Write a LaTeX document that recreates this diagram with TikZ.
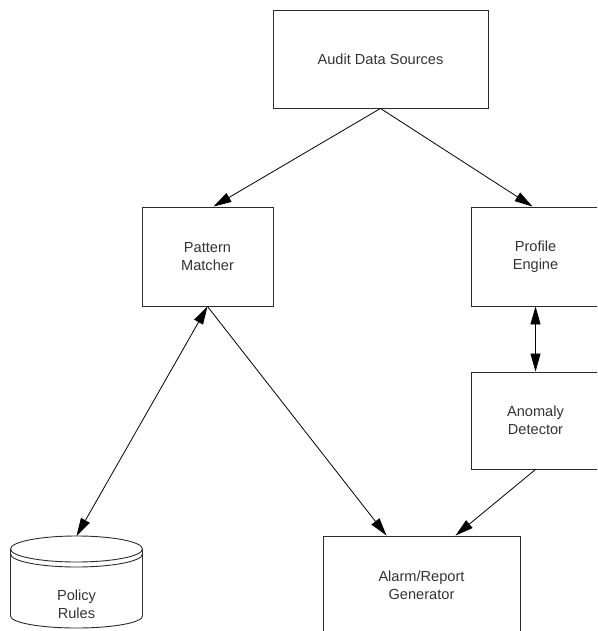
\documentclass[tikz,border=0pt]{standalone}
\usepackage{fontspec}
\setmainfont{Liberation Sans}
\usepackage{tikz}
\usetikzlibrary{arrows.meta}
\definecolor{boxline}{HTML}{2B2B2B}
\definecolor{labeltext}{HTML}{333333}

\begin{document}
\begin{tikzpicture}[x=1pt,y=-1pt,
  block/.style={draw=boxline,line width=0.9pt,rectangle,inner sep=0pt,align=center,
    font=\fontsize{14.6}{18}\selectfont,text=labeltext},
  flow/.style={line width=0.8pt,-{Triangle[length=18pt,width=10pt]}},
  both/.style={line width=0.8pt,{Triangle[length=18pt,width=10pt]}-{Triangle[length=18pt,width=10pt]}}]
  \useasboundingbox (0,0) rectangle (597,631);
  \clip (0,0) rectangle (597,631);
  \node[block,minimum width=215pt,minimum height=98pt] (audit) at (380.5,59) {Audit Data Sources};
  \node[block,minimum width=131pt,minimum height=99pt] (matcher) at (207.5,256.5) {Pattern\\Matcher};
  \node[block,minimum width=129pt,minimum height=99pt] (profile) at (535.5,256.5) {Profile\\Engine};
  \node[block,minimum width=129pt,minimum height=97pt] (anomaly) at (535.5,420.5) {Anomaly\\Detector};
  \node[block,minimum width=197pt,minimum height=98pt] (alarm) at (421.5,585) {Alarm/Report\\Generator};
  % policy store
  \draw[boxline,line width=0.9pt] (76.5,549) ellipse [x radius=66, y radius=13];
  \draw[boxline,line width=0.9pt] (10.5,554) arc[start angle=180,end angle=0,x radius=66,y radius=13];
  \draw[boxline,line width=0.9pt] (10.5,549) -- (10.5,616) arc[start angle=180,end angle=0,x radius=66,y radius=12] -- (142.5,549);
  \node[align=center,font=\fontsize{14.6}{18}\selectfont,text=labeltext] (rules) at (76.5,604) {Policy\\Rules};
  \coordinate (store) at (76.5,536);
  \draw[flow] (audit.south) -- ([xshift=6pt]matcher.north);
  \draw[flow] (audit.south) -- ([xshift=-3pt]profile.north);
  \draw[both] (profile.south) -- (anomaly.north);
  \draw[flow] (anomaly.south) -- ([xshift=34pt]alarm.north);
  \draw[flow] (matcher.south) -- ([xshift=-35pt]alarm.north);
  \draw[both] (matcher.south) -- (store);
\end{tikzpicture}
\end{document}
